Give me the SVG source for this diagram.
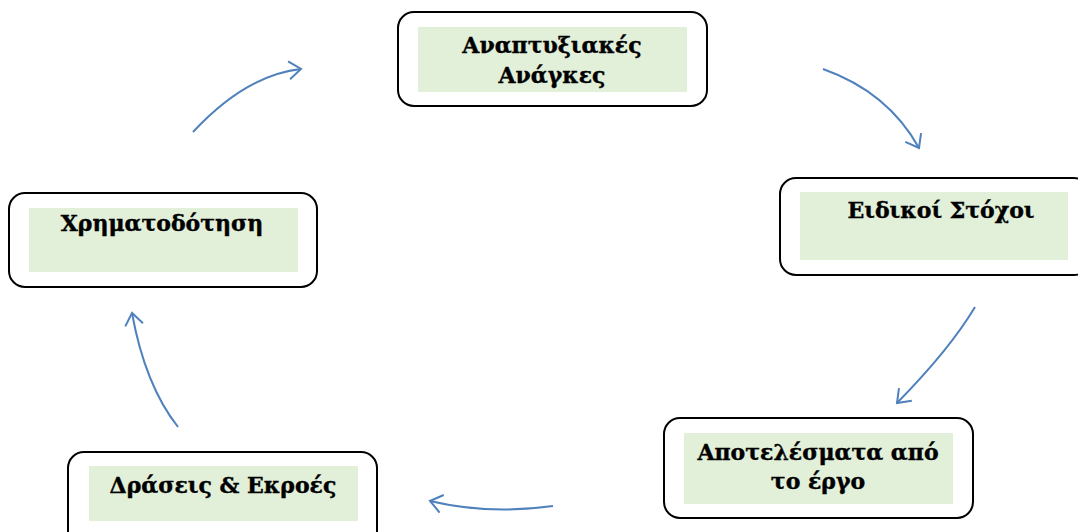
<svg xmlns="http://www.w3.org/2000/svg" width="1078" height="532" viewBox="0 0 1078 532">
<style>
.box{fill:#fff;stroke:#000;stroke-width:2}
.inner{fill:#e2efd9;stroke:none}
.lbl{font-family:"DejaVu Serif","Liberation Serif",serif;font-weight:bold;font-size:22px;fill:#000;stroke:#000;stroke-width:0.4;text-anchor:middle}
.arr{fill:none;stroke:#4f81bd;stroke-width:2;marker-end:url(#ah)}
</style>
<defs>
<marker id="ah" markerUnits="userSpaceOnUse" markerWidth="20" markerHeight="24" refX="16" refY="10" orient="auto" viewBox="0 0 20 20">
<path d="M4,1 L16,10 L4,19" fill="none" stroke="#4f81bd" stroke-width="2"/>
</marker>
</defs>
<rect width="1078" height="532" fill="#fff"/>
<g id="connectors">
<path class="arr" d="M193,132 Q246,75 301,69"/>
<path class="arr" d="M823,69 Q888,92 919,148"/>
<path class="arr" d="M975,307 Q950,349 897,403"/>
<path class="arr" d="M553,506 Q489,515 430,501"/>
<path class="arr" d="M178,427 Q145,385 132,313"/>
</g>
<g id="node-anaptyxiakes">
<rect class="box" x="398" y="12" width="309" height="94" rx="16"/>
<rect class="inner" x="418" y="27" width="269" height="65"/>
<text class="lbl" x="552" y="53">Αναπτυξιακές</text>
<text class="lbl" x="552" y="83">Ανάγκες</text>
</g>
<g id="node-eidikoi">
<rect class="box" x="780" y="178" width="310" height="97" rx="16"/>
<rect class="inner" x="800" y="192" width="268" height="68"/>
<text class="lbl" x="941" y="218">Ειδικοί Στόχοι</text>
</g>
<g id="node-apotelesmata">
<rect class="box" x="664" y="418" width="309" height="100" rx="16"/>
<rect class="inner" x="684" y="433" width="269" height="71"/>
<text class="lbl" x="818" y="460">Αποτελέσματα από</text>
<text class="lbl" x="818" y="489">το έργο</text>
</g>
<g id="node-draseis">
<rect class="box" x="68" y="452" width="309" height="100" rx="16"/>
<rect class="inner" x="89" y="466" width="269" height="55"/>
<text class="lbl" x="223" y="493">Δράσεις &amp; Εκροές</text>
</g>
<g id="node-xrimatodotisi">
<rect class="box" x="9" y="193" width="308" height="94" rx="16"/>
<rect class="inner" x="29" y="208" width="269" height="64"/>
<text class="lbl" x="162" y="231">Χρηματοδότηση</text>
</g>
</svg>
